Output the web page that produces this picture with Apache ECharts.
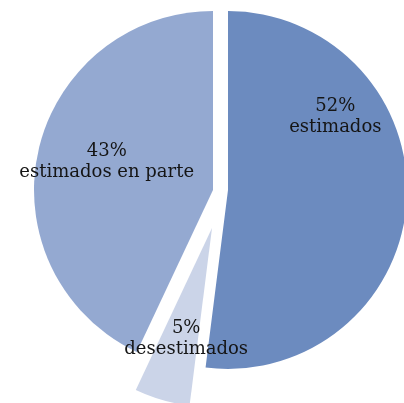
<!DOCTYPE html>
<html>
<head>
<meta charset="utf-8">
<script src="https://cdn.jsdelivr.net/npm/echarts@6/dist/echarts.min.js"></script>
<style>
html,body{margin:0;padding:0;background:#fff;}
#c{width:404px;height:403px;}
</style>
</head>
<body>
<div id="c"></div>
<script>
const categories = ['estimados', 'desestimados', 'estimados en parte'];
const values = [52, 5, 43];
const colors = ['#6c8bbf', '#cbd4e8', '#94a9d1'];
// per-slice exploded centre and label nudge (layout only)
const centers = [[228, 190], [212, 228], [213, 190]];
const labelShift = [[15, -79], [0, 22], [-16, -8]];

const chart = echarts.init(document.getElementById('c'), null, {renderer: 'canvas'});

const series = categories.map((name, k) => ({
  type: 'pie',
  center: centers[k],
  radius: [0, 179],
  startAngle: 90,
  clockwise: true,
  silent: true,
  animation: false,
  labelLine: {show: false},
  labelLayout: function () { return {dx: labelShift[k][0], dy: labelShift[k][1]}; },
  data: categories.map((n, j) => ({
    name: n,
    value: values[j],
    itemStyle: {color: j === k ? colors[j] : 'rgba(0,0,0,0)'},
    label: {
      show: j === k,
      position: 'inside',
      formatter: '{d}%\n{b}',
      fontFamily: '"DejaVu Serif", serif',
      fontSize: 18,
      lineHeight: 21,
      color: '#151515'
    }
  }))
}));

chart.setOption({
  backgroundColor: '#ffffff',
  series: series
});
</script>
</body>
</html>
